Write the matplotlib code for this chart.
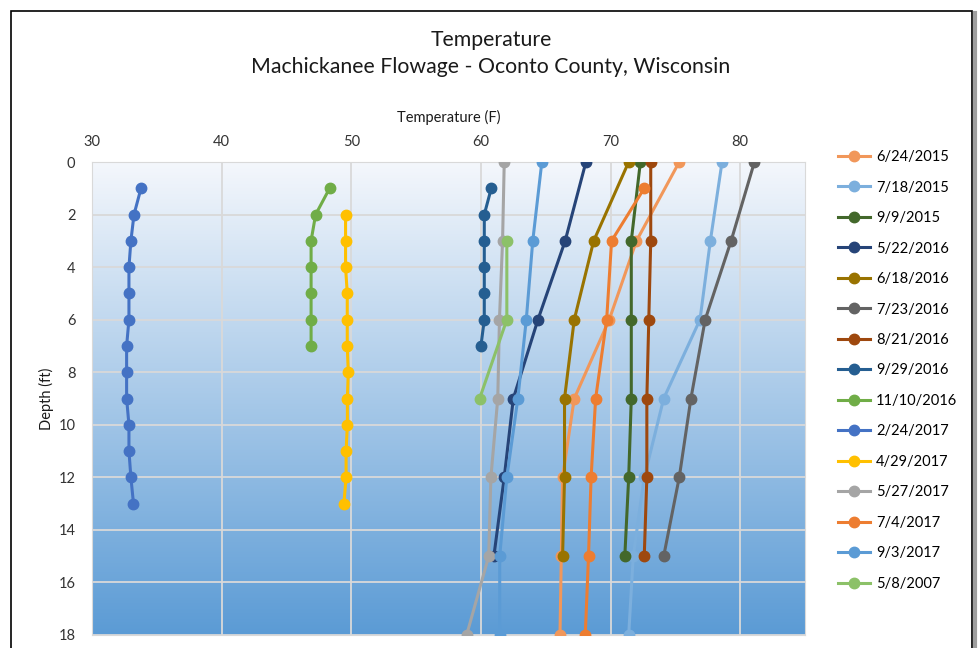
import numpy as np
import matplotlib
matplotlib.use("Agg")
import matplotlib.pyplot as plt
from matplotlib.patches import Rectangle
from matplotlib.lines import Line2D

plt.rcParams['font.family'] = ['Lato', 'DejaVu Sans']

# Depth profiles: (label, depths in ft, temperatures in F, colour)
labels = ['6/24/2015', '7/18/2015', '9/9/2015', '5/22/2016', '6/18/2016', '7/23/2016',
          '8/21/2016', '9/29/2016', '11/10/2016', '2/24/2017', '4/29/2017', '5/27/2017',
          '7/4/2017', '9/3/2017', '5/8/2007']

depths = {
    '6/24/2015': [0, 3, 6, 9, 12, 15, 18],
    '7/18/2015': [0, 3, 6, 9, 12, 15, 18],
    '9/9/2015': [0, 3, 6, 9, 12, 15],
    '5/22/2016': [0, 3, 6, 9, 12, 15],
    '6/18/2016': [0, 3, 6, 9, 12, 15],
    '7/23/2016': [0, 3, 6, 9, 12, 15],
    '8/21/2016': [0, 3, 6, 9, 12, 15],
    '9/29/2016': [1, 2, 3, 4, 5, 6, 7],
    '11/10/2016': [1, 2, 3, 4, 5, 6, 7],
    '2/24/2017': [1, 2, 3, 4, 5, 6, 7, 8, 9, 10, 11, 12, 13],
    '4/29/2017': [2, 3, 4, 5, 6, 7, 8, 9, 10, 11, 12, 13],
    '5/27/2017': [0, 3, 6, 9, 12, 15, 18],
    '7/4/2017': [1, 3, 6, 9, 12, 15, 18],
    '9/3/2017': [0, 3, 6, 9, 12, 15, 18],
    '5/8/2007': [3, 6, 9],
}

temps = {
    '6/24/2015': [75.3, 72.0, 69.9, 67.2, 66.3, 66.2, 66.1],
    '7/18/2015': [78.6, 77.7, 76.9, 74.1, 72.6, 71.75, 71.4],
    '9/9/2015': [72.3, 71.6, 71.6, 71.6, 71.4, 71.1],
    '5/22/2016': [68.1, 66.5, 64.4, 62.5, 61.8, 61.0],
    '6/18/2016': [71.4, 68.7, 67.2, 66.45, 66.45, 66.3],
    '7/23/2016': [81.1, 79.3, 77.3, 76.2, 75.3, 74.1],
    '8/21/2016': [73.1, 73.1, 72.95, 72.8, 72.8, 72.6],
    '9/29/2016': [60.8, 60.26, 60.26, 60.26, 60.26, 60.26, 60.0],
    '11/10/2016': [48.33, 47.25, 46.9, 46.9, 46.9, 46.9, 46.9],
    '2/24/2017': [33.78, 33.24, 33.0, 32.85, 32.85, 32.85, 32.67, 32.67, 32.67, 32.85, 32.85, 33.0, 33.2],
    '4/29/2017': [49.56, 49.56, 49.56, 49.69, 49.69, 49.69, 49.77, 49.7, 49.7, 49.6, 49.6, 49.43],
    '5/27/2017': [61.8, 61.67, 61.43, 61.3, 60.77, 60.6, 58.9],
    '7/4/2017': [72.6, 70.08, 69.7, 68.85, 68.5, 68.3, 68.05],
    '9/3/2017': [64.7, 64.0, 63.5, 62.85, 62.0, 61.45, 61.45],
    '5/8/2007': [62.0, 62.0, 59.9],
}

colors = {
    '6/24/2015': '#F1975A', '7/18/2015': '#7CAFDD', '9/9/2015': '#43682B',
    '5/22/2016': '#264478', '6/18/2016': '#997300', '7/23/2016': '#636363',
    '8/21/2016': '#9E480E', '9/29/2016': '#255E91', '11/10/2016': '#70AD47',
    '2/24/2017': '#4472C4', '4/29/2017': '#FFC000', '5/27/2017': '#A5A5A5',
    '7/4/2017': '#ED7D31', '9/3/2017': '#5B9BD5', '5/8/2007': '#8CC168',
}

fig = plt.figure(figsize=(9.8, 6.48), dpi=100)
ax = fig.add_axes([92 / 980, 1 - 635 / 648, (805 - 92) / 980, (635 - 162) / 648])

# gradient background of the plot area
top = np.array([244, 247, 252]) / 255
bot = np.array([91, 155, 213]) / 255
t = np.linspace(0, 1, 256)[:, None]
grad = (top * (1 - t) + bot * t)[:, None, :]
ax.imshow(grad, extent=[0, 1, 0, 1], transform=ax.transAxes, aspect='auto', zorder=0)

for lab in labels:
    ax.plot(temps[lab], depths[lab], color=colors[lab], lw=2.2, marker='o', ms=7.5,
            label=lab, zorder=3, solid_joinstyle='round')

ax.set_xlim(30, 85)
ax.set_ylim(18, 0)
ax.set_xticks([30, 40, 50, 60, 70, 80])
ax.set_yticks(range(0, 19, 2))
ax.xaxis.tick_top()
ax.xaxis.set_label_position('top')
ax.tick_params(length=0, labelsize=10.5, colors='#333333', pad=9)
ax.tick_params(axis='y', pad=12)
ax.grid(True, color='#D9D9D9', lw=1.3, zorder=1)
ax.set_axisbelow(True)
for s in ax.spines.values():
    s.set_color('#D9D9D9')
ax.set_xlabel('Temperature (F)', fontsize=10.5, color='#1a1a1a', labelpad=10)
ax.set_ylabel('Depth (ft)', fontsize=10.5, color='#1a1a1a', labelpad=3)

fig.text(491 / 980, 1 - 40 / 648, 'Temperature', ha='center', va='center', fontsize=15.3, color='#1a1a1a')
fig.text(491 / 980, 1 - 67 / 648, 'Machickanee Flowage - Oconto County, Wisconsin', ha='center',
         va='center', fontsize=15.3, color='#1a1a1a')

fig.legend(loc='upper left', bbox_to_anchor=(825 / 980, 1 - 137 / 648), frameon=False,
           fontsize=10.5, labelspacing=1.13, handlelength=2.2, handletextpad=0.4)

# chart border with a little shadow on the right
fig.add_artist(Line2D([975 / 980, 975 / 980], [0, 1 - 13 / 648], color='#A0A0A0', lw=3,
                      transform=fig.transFigure))
fig.add_artist(Rectangle((11 / 980, -0.05), (972 - 11) / 980, 1.05 - 10.5 / 648, fill=False,
                         edgecolor='black', lw=1.2, transform=fig.transFigure))

plt.savefig('out.png', dpi=100)
